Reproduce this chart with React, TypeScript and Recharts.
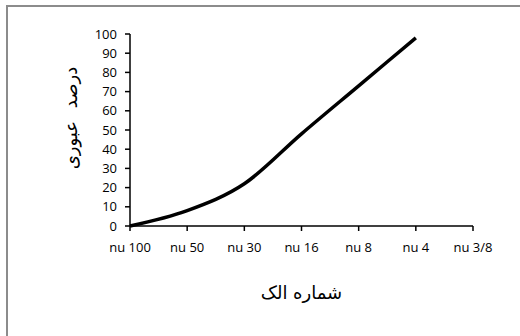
import React from "react";
import { LineChart, Line, XAxis, YAxis, Label } from "recharts";

const sieves = ["nu 100", "nu 50", "nu 30", "nu 16", "nu 8", "nu 4", "nu 3/8"];
const passing: (number | null)[] = [0, 8, 22, 48, 73, 98, null];
const yTicks = [0, 10, 20, 30, 40, 50, 60, 70, 80, 90, 100];

const data = sieves.map((sieve, i) => ({ sieve, passing: passing[i] }));

const tickStyle = { fontFamily: "'Open Sans', sans-serif", fontSize: 13, fill: "#000" };
const arabicFont = "'DejaVu Sans', sans-serif";

export default function App() {
  return (
    <div
      style={{
        position: "fixed",
        left: 0,
        top: 0,
        width: 520,
        height: 336,
        background: "#fff",
        overflow: "hidden",
      }}
    >
      {/* chart frame, cut off on the right and bottom */}
      <div
        style={{
          position: "absolute",
          left: 6,
          top: 5,
          width: 600,
          height: 400,
          borderTop: "2px solid #8c8c8c",
          borderLeft: "2px solid #8c8c8c",
        }}
      />
      <div style={{ position: "absolute", left: 0, top: 0 }}>
        <LineChart
          width={520}
          height={336}
          data={data}
          margin={{ top: 34, right: 47, left: 0, bottom: 30 }}
        >
          <XAxis
            dataKey="sieve"
            height={80}
            stroke="#000"
            strokeWidth={1.5}
            tickSize={5}
            tickMargin={12}
            tick={tickStyle}
            interval={0}
            label={{
              value: "شماره الک",
              position: "insideBottom",
              offset: 7,
              style: { fontFamily: arabicFont, fontSize: 18, fill: "#000" },
            }}
          />
          <YAxis
            width={130}
            domain={[0, 100]}
            ticks={yTicks}
            interval={0}
            stroke="#000"
            strokeWidth={1.5}
            tickSize={5}
            tickMargin={8}
            tick={tickStyle}
          >
            <Label
              content={() => (
                <text
                  x={70}
                  y={118}
                  transform="rotate(-90 70 118)"
                  textAnchor="middle"
                  dominantBaseline="central"
                  style={{ fontFamily: arabicFont, fontSize: 18, fill: "#000", wordSpacing: 7 }}
                >
                  درصد عبوری
                </text>
              )}
            />
          </YAxis>
          <Line
            type="monotone"
            dataKey="passing"
            stroke="#000"
            strokeWidth={3.5}
            dot={false}
            connectNulls={false}
            isAnimationActive={false}
          />
        </LineChart>
      </div>
    </div>
  );
}
